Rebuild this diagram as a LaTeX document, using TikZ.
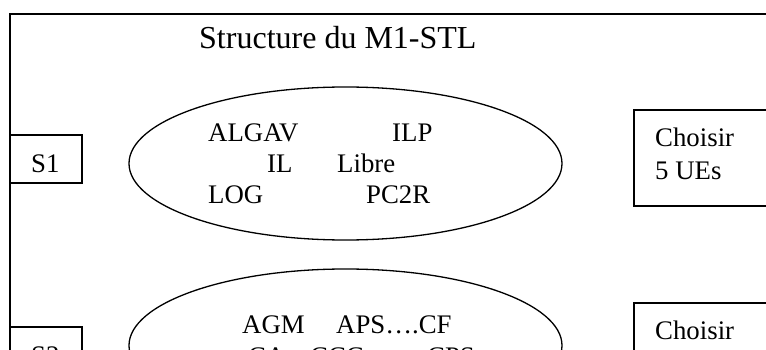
\documentclass[tikz,border=0pt]{standalone}
\usepackage{fontspec}
\setmainfont{Liberation Serif}
\usetikzlibrary{shapes.geometric}
\begin{document}
\begin{tikzpicture}[x=1pt,y=-1pt,
  outline/.style={draw=black,line width=1.3pt,inner sep=0pt,outer sep=0pt},
  boxshape/.style={outline,rectangle},
  ovalshape/.style={outline,ellipse},
  word/.style={inner sep=0pt,anchor=base west,font=\fontsize{26.8}{30}\selectfont},
  titleword/.style={inner sep=0pt,anchor=base west,font=\fontsize{32}{36}\selectfont}
]
\clip (0,0) rectangle (766,350);
\fill[white] (0,0) rectangle (766,350);
% outer frame (extends past the right and bottom edges)
\node[boxshape,minimum width=890pt,minimum height=486pt] (frame) at (455,257) {};
% title
\node[titleword] (title) at (199,49) {Structure du M1-STL};
% semester boxes
\node[boxshape,minimum width=72pt,minimum height=48pt] (s1box) at (46,159) {};
\node[word] (s1) at (31,172) {S1};
\node[boxshape,minimum width=72pt,minimum height=48pt] (s2box) at (46,351) {};
\node[word] (s2) at (31,364) {S2};
% ellipses
\node[ovalshape,minimum width=433pt,minimum height=153pt] (ue1) at (345.5,163.5) {};
\node[ovalshape,minimum width=433pt,minimum height=153pt] (ue2) at (345.5,345.5) {};
% S1 courses
\node[word] (algav) at (208,142) {ALGAV};
\node[word] (ilp) at (392,142) {ILP};
\node[word] (il) at (267,173) {IL};
\node[word] (libre) at (337,173) {Libre};
\node[word] (log) at (208,204) {LOG};
\node[word] (pc2r) at (366,204) {PC2R};
% S2 courses
\node[word] (agm) at (242,333) {AGM};
\node[word] (aps) at (336,333) {APS….CF};
\node[word] (ca) at (248,365) {CA};
\node[word] (ccc) at (310,365) {CCC};
\node[word] (cps) at (427,365) {CPS};
% choice boxes
\node[boxshape,minimum width=200pt,minimum height=96pt] (c1box) at (734,158) {};
\node[word] (c1a) at (655,147) {Choisir};
\node[word] (c1b) at (655,179) {5 UEs};
\node[boxshape,minimum width=200pt,minimum height=96pt] (c2box) at (734,351) {};
\node[word] (c2a) at (655,339) {Choisir};
\end{tikzpicture}
\end{document}
